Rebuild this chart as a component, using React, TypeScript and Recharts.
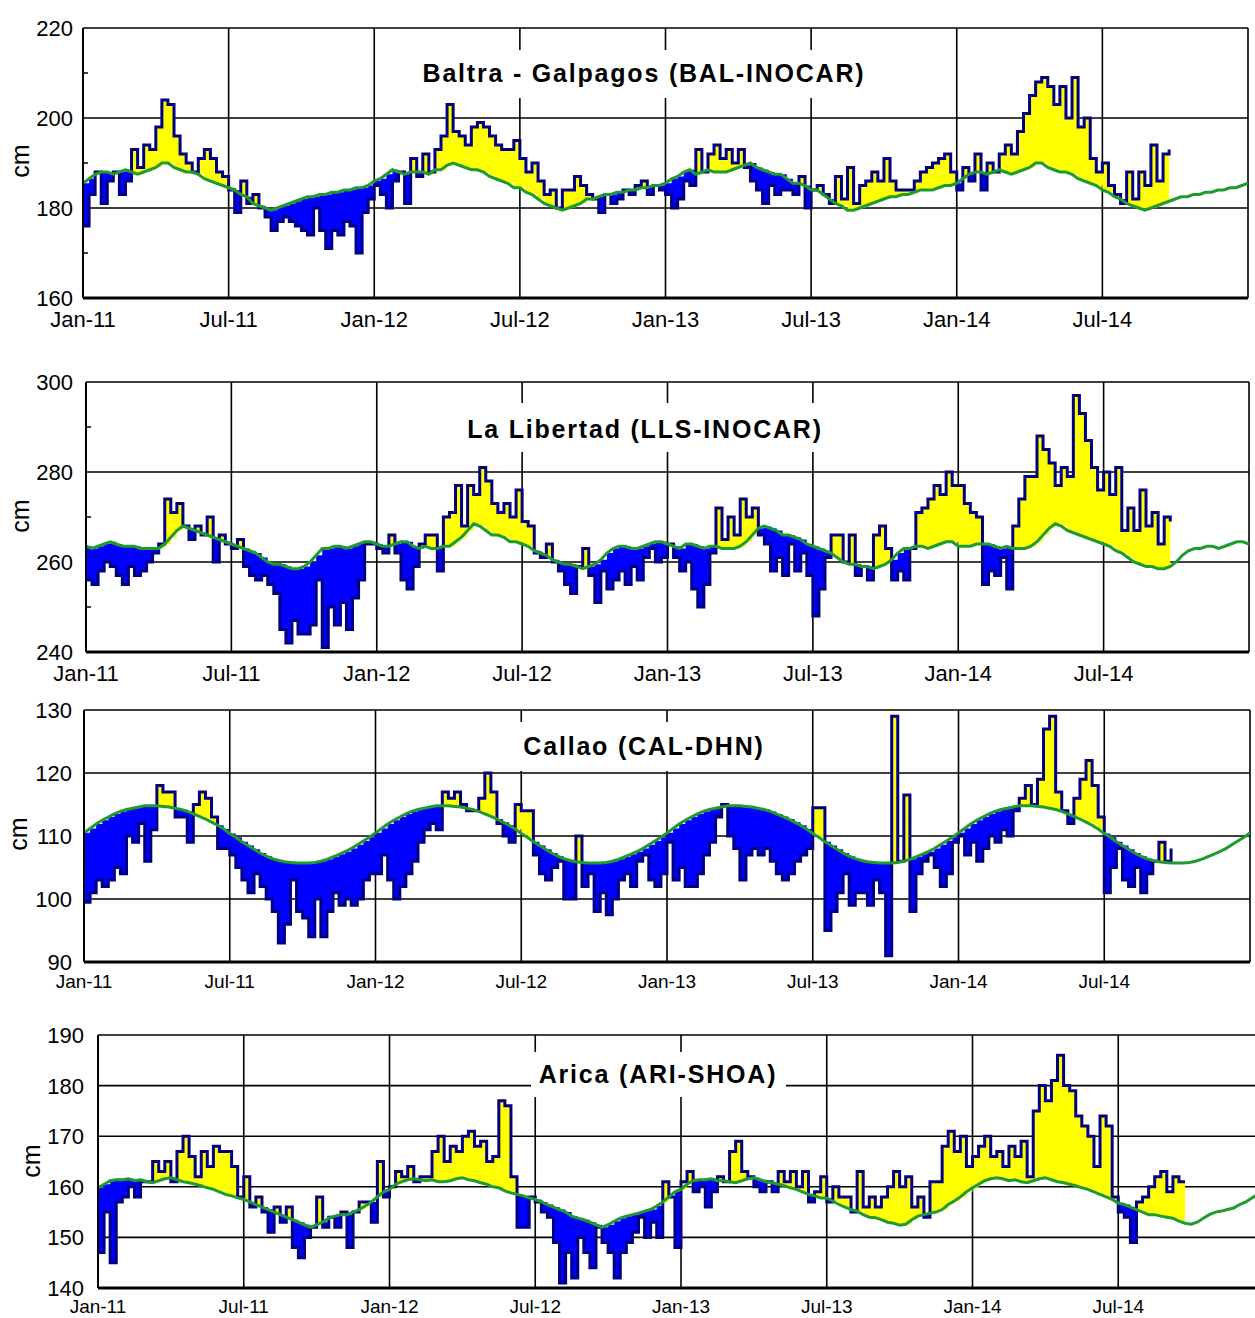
import React from "react";
import {
  ComposedChart,
  Area,
  Line,
  XAxis,
  YAxis,
  CartesianGrid,
} from "recharts";

const FONT = "'Liberation Sans', Arial, sans-serif";

// x is months since Jan-11, sampled every week (4 per month)
const MONTH_TICKS = [0, 6, 12, 18, 24, 30, 36, 42, 48];
const TICK_LABELS = ["Jan-11", "Jul-11", "Jan-12", "Jul-12", "Jan-13", "Jul-13", "Jan-14", "Jul-14", ""];

// Baltra - Galapagos
const BAL_OBS = [
  176, 183, 188, 181, 186, 188, 183, 186, 193, 189, 194, 193, 198, 204, 203, 196,
  192, 190, 188, 191, 193, 191, 188, 187, 184, 179, 186, 181, 183, 180, 178, 175,
  177, 178, 177, 176, 175, 174, 180, 175, 171, 175, 174, 177, 176, 170, 179, 182,
  185, 183, 180, 186, 188, 181, 191, 187, 192, 188, 193, 196, 203, 197, 196, 194,
  198, 199, 198, 196, 194, 193, 193, 195, 191, 188, 190, 186, 183, 184, 180, 184,
  184, 187, 185, 183, 182, 179, 183, 181, 182, 184, 183, 185, 186, 183, 185, 184,
  183, 180, 182, 186, 185, 193, 188, 192, 194, 191, 193, 190, 193, 189, 186, 184,
  181, 185, 183, 184, 184, 183, 187, 180, 184, 185, 183, 181, 187, 182, 189, 181,
  185, 186, 188, 186, 191, 186, 184, 184, 184, 186, 188, 189, 190, 191, 192, 188,
  184, 189, 186, 192, 184, 190, 188, 192, 194, 192, 197, 201, 205, 208, 209, 207,
  203, 207, 200, 209, 198, 200, 191, 188, 190, 185, 183, 181, 188, 182, 188, 185,
  194, 186, 192, 193,
];
const BAL_CLIM = [
  185.5, 186.5, 187.5, 188, 188, 187.5, 188, 188.5, 188, 187.5, 188, 188.5, 189, 190, 190, 189,
  188.5, 188, 188, 187.5, 186.5, 186, 185.5, 185, 184.5, 184, 183, 182.5, 181, 180.5, 180, 179.5,
  180, 180.5, 181, 181.5, 182, 182.5, 182.5, 183, 183, 183.5, 183.5, 184, 184, 184.5, 184.5, 185,
  186, 186.5, 187.5, 188.5, 188, 187.5, 188, 188, 188, 187.5, 188.5, 188.5, 189.5, 190, 189.5, 189,
  188.5, 188.5, 188, 187, 186.5, 186, 185.5, 184.5, 184.5, 183.5, 183, 182, 181, 180.5, 180, 179.5,
  180, 180.5, 181, 182, 182, 182.5, 183, 183, 183.5, 183.5, 184, 184, 184.5, 184.5, 185, 185,
  185.5, 186.5, 187, 188, 188.5, 187.5, 188, 188.5, 188, 188, 188, 188.5, 189, 189.5, 190, 189,
  188.5, 188, 187.5, 187.5, 186.5, 185.5, 185.5, 185, 184, 184, 183, 182, 181, 180.5, 179.5, 179.5,
  180, 180.5, 181, 181.5, 182, 182.5, 182.5, 183, 183, 183.5, 184, 184, 184, 184.5, 185, 185,
  185.5, 186.5, 187.5, 188, 188, 187.5, 188, 188.5, 188, 187.5, 188, 188.5, 189, 190, 190, 189,
  188.5, 188, 188, 187.5, 186.5, 186, 185.5, 185, 184, 183.5, 182.5, 182, 181, 180.5, 180, 179.5,
  180, 180.5, 181, 181.5, 182, 182.5, 182.5, 183, 183, 183.5, 183.5, 184, 184, 184.5, 184.5, 185,
  185.5,
];

// La Libertad
const LLS_OBS = [
  256, 255, 258, 260, 259, 257, 255, 259, 257, 258, 260, 262, 264, 274, 271, 273,
  268, 265, 268, 266, 270, 260, 266, 264, 263, 265, 259, 257, 256, 257, 255, 253,
  245, 242, 247, 244, 244, 246, 256, 241, 250, 246, 251, 245, 252, 256, 264, 264,
  263, 262, 266, 262, 256, 254, 259, 264, 266, 266, 258, 270, 271, 277, 268, 277,
  275, 281, 278, 273, 271, 273, 270, 276, 269, 268, 262, 261, 264, 260, 258, 255,
  253, 259, 263, 257, 251, 258, 254, 256, 258, 255, 259, 256, 261, 263, 260, 261,
  264, 261, 258, 260, 254, 250, 255, 262, 272, 265, 270, 266, 274, 270, 272, 266,
  264, 258, 261, 257, 264, 258, 262, 257, 248, 254, 261, 266, 266, 260, 266, 257,
  259, 256, 266, 268, 263, 256, 258, 256, 263, 271, 272, 274, 277, 275, 280, 277,
  277, 273, 271, 270, 255, 258, 257, 261, 254, 268, 274, 279, 279, 288, 285, 282,
  277, 281, 279, 297, 293, 287, 281, 276, 280, 275, 281, 267, 272, 267, 276, 268,
  271, 264, 270, 269,
];
const LLS_CLIM = [
  263.5, 263, 263.5, 264, 264.5, 264, 263.5, 263.5, 263.5, 263, 263, 263, 263, 264, 265.5, 267,
  268, 267.5, 267, 266.5, 266, 265.5, 265, 264.5, 264, 263.5, 263, 262.5, 262, 261, 260, 259.5,
  259.5, 259, 258.5, 258.5, 259, 260, 261.5, 263, 263, 263.5, 263.5, 263, 263.5, 264, 264.5, 264.5,
  264, 263.5, 263.5, 264, 264.5, 264.5, 263.5, 263, 263.5, 263, 263, 263.5, 263.5, 264.5, 265.5, 267,
  268.5, 268, 267, 266, 266, 265.5, 264.5, 264.5, 264, 263.5, 262.5, 262, 261.5, 260.5, 260, 259.5,
  259.5, 259, 258.5, 259, 259.5, 260.5, 262, 263, 263.5, 263.5, 263, 263, 263.5, 264, 264.5, 264.5,
  264, 263.5, 263, 264, 264, 263.5, 263, 263.5, 263.5, 263, 263, 263, 263.5, 264.5, 266, 267.5,
  268, 267.5, 267, 266, 266, 265.5, 265, 264, 263.5, 263, 262.5, 262, 261, 260, 259.5, 259.5,
  259, 259, 258.5, 259, 259.5, 260.5, 262, 263, 263, 263.5, 263.5, 263, 263.5, 264, 264.5, 264.5,
  263.5, 263.5, 263.5, 264, 264, 264, 263.5, 263, 263.5, 263, 263, 263, 263.5, 264.5, 266, 267.5,
  268.5, 268, 267, 266.5, 266, 265.5, 265, 264.5, 264, 263.5, 262.5, 262, 261, 260, 259.5, 259,
  259, 258.5, 258.5, 259, 260, 261.5, 262.5, 263, 263, 263.5, 263.5, 263, 263.5, 264, 264.5, 264.5,
  264,
];

// Callao
const CAL_OBS = [
  99.5, 101, 103, 102, 103, 105, 104, 110, 109, 112, 106, 111, 118, 117, 117, 113,
  113, 109, 115, 117, 116, 113, 108, 108, 107, 105, 103, 101, 104, 102, 100, 98,
  93, 96, 103, 98, 97, 94, 100, 94, 98, 101, 99, 100, 99, 100, 103, 104,
  104, 107, 103, 100, 102, 104, 106, 109, 111, 112, 111, 117, 116, 117, 115, 114,
  114, 116, 120, 117, 112, 110, 109, 115, 114, 114, 107, 104, 103, 105, 106, 100,
  100, 110, 102, 104, 98, 101, 97.5, 100, 103, 104, 102, 106, 107, 103, 102, 104,
  109, 103, 105, 102, 102, 104, 107, 109, 113, 115, 110, 108, 103, 107, 108, 107,
  108, 106, 104, 103, 104, 106, 107, 108, 114.5, 114.5, 95, 98, 101, 104, 99, 101,
  101, 99, 103, 101, 91, 129, 106, 116.5, 98, 104, 106, 107, 105, 102, 104, 109,
  110, 107, 109, 106, 108, 110, 109, 111, 110, 114, 116, 118, 115, 119, 127, 129,
  117, 114, 112, 116, 119, 122, 118, 113, 101, 105, 108, 103, 102, 105, 101, 104,
  106, 109, 106, 108,
];
const CAL_CLIM = [
  110.5, 111.2, 111.9, 112.5, 113, 113.5, 113.9, 114.2, 114.4, 114.6, 114.8, 114.8, 114.8, 114.7, 114.6, 114.4,
  114.2, 113.9, 113.5, 113.1, 112.7, 112.2, 111.7, 111.1, 110.4, 109.8, 109.1, 108.5, 107.9, 107.3, 106.8, 106.4,
  106.1, 105.9, 105.8, 105.7, 105.7, 105.7, 105.8, 106, 106.3, 106.7, 107.1, 107.5, 108, 108.6, 109.2, 109.8,
  110.5, 111.2, 111.9, 112.5, 113, 113.5, 113.9, 114.2, 114.4, 114.6, 114.8, 114.8, 114.8, 114.7, 114.6, 114.4,
  114.2, 113.9, 113.5, 113.1, 112.7, 112.2, 111.7, 111.1, 110.4, 109.8, 109.1, 108.5, 107.9, 107.3, 106.8, 106.4,
  106.1, 105.9, 105.8, 105.7, 105.7, 105.7, 105.8, 106, 106.3, 106.7, 107.1, 107.5, 108, 108.6, 109.2, 109.8,
  110.5, 111.2, 111.9, 112.5, 113, 113.5, 113.9, 114.2, 114.4, 114.6, 114.8, 114.8, 114.8, 114.7, 114.6, 114.4,
  114.2, 113.9, 113.5, 113.1, 112.7, 112.2, 111.7, 111.1, 110.4, 109.8, 109.1, 108.5, 107.9, 107.3, 106.8, 106.4,
  106.1, 105.9, 105.8, 105.7, 105.7, 105.7, 105.8, 106, 106.3, 106.7, 107.1, 107.5, 108, 108.6, 109.2, 109.8,
  110.5, 111.2, 111.9, 112.5, 113, 113.5, 113.9, 114.2, 114.4, 114.6, 114.8, 114.8, 114.8, 114.7, 114.6, 114.4,
  114.2, 113.9, 113.5, 113.1, 112.7, 112.2, 111.7, 111.1, 110.4, 109.8, 109.1, 108.5, 107.9, 107.3, 106.8, 106.4,
  106.1, 105.9, 105.8, 105.7, 105.7, 105.7, 105.8, 106, 106.3, 106.7, 107.1, 107.5, 108, 108.6, 109.2, 109.8,
  110.5,
];

// Arica
const ARI_OBS = [
  147, 155, 145, 157, 158, 160, 158, 161, 161, 165, 163, 165, 161, 167, 170, 166,
  162, 167, 164, 168, 167, 167, 164, 158, 162, 156, 158, 155, 151, 156, 153, 156,
  148, 146, 150, 152, 158, 152, 154, 152, 155, 148, 155, 157, 157, 153, 165, 158,
  160, 163, 162, 164, 161, 162, 162, 167, 170, 165, 168, 167, 170, 171, 168, 169,
  165, 166, 177, 176, 162, 152, 152, 158, 157, 155, 154, 149, 141, 147, 142, 150,
  147, 144, 152, 149, 147, 142, 147, 149, 151, 154, 150, 153, 150, 161, 158, 148,
  161, 163, 159, 160, 156, 159, 162, 161, 167, 169, 163, 162, 160, 159, 161, 159,
  163, 161, 163, 160, 163, 157, 159, 162, 157, 160, 158, 158, 155, 163, 156, 158,
  156, 158, 160, 163, 160, 162, 156, 158, 154, 161, 161, 168, 171, 167, 170, 164,
  166, 168, 170, 166, 167, 164, 168, 166, 169, 162, 175, 180, 177, 181, 186, 180,
  179, 174, 172, 170, 164, 174, 172, 158, 155, 154, 149, 157, 158, 160, 162, 163,
  159, 162, 161, 161,
];
const ARI_CLIM = [
  159.8, 160.5, 161.2, 161.4, 161.4, 161.6, 161.2, 161.4, 161, 160.8, 161.2, 161.6, 161.8, 161.4, 161, 160.8,
  160.5, 160.2, 159.8, 159.5, 159, 158.5, 158.2, 157.8, 157.5, 157, 156.5, 156, 155.5, 155, 154.5, 154,
  153.5, 153, 152.5, 152, 152.5, 153, 153.8, 154.2, 154.5, 154.5, 155, 155.5, 156.2, 157, 158, 159,
  159.5, 160.5, 161, 161.4, 161.6, 161.4, 161.2, 161.4, 161, 161, 161.2, 161.6, 161.8, 161.4, 161.2, 160.8,
  160.5, 160, 159.8, 159.2, 158.8, 158.5, 158.2, 157.8, 157.5, 157, 156.5, 156, 155.5, 155, 154.2, 153.8,
  153.5, 153, 152.5, 152, 152.5, 153.2, 153.8, 154.2, 154.5, 154.8, 155.2, 155.5, 156.2, 157, 158, 159,
  159.5, 160.5, 161.2, 161.4, 161.4, 161.6, 161.2, 161.2, 161, 160.8, 161.2, 161.6, 161.8, 161.4, 161, 160.8,
  160.5, 160.2, 159.8, 159.5, 159, 158.5, 158.2, 157.8, 157.8, 157.2, 156.5, 156, 155.5, 155.2, 154.5, 154,
  153.9, 153.5, 153, 152.8, 152.4, 152.6, 153.5, 154.2, 154.5, 154.8, 155, 155.5, 156.5, 157.2, 158, 159,
  159.8, 160.5, 161.2, 161.6, 161.8, 161.6, 161.2, 161.4, 161, 160.8, 161.2, 161.6, 161.8, 161.4, 161, 160.8,
  160.5, 160.2, 159.8, 159.5, 159, 158.5, 158, 157.5, 156.8, 156.5, 156, 155.5, 155, 154.5, 154.5, 154.2,
  154, 153.8, 153.2, 152.8, 152.6, 153, 153.8, 154.5, 155, 155.2, 155.5, 155.8, 156.5, 157, 157.8, 158.5,
  159,
];

const BAL_TICKS = { major: [160, 180, 200, 220], minor: [170, 190, 210] };
const LLS_TICKS = { major: [240, 260, 280, 300], minor: [250, 270, 290] };
const CAL_TICKS = { major: [90, 100, 110, 120, 130], minor: [] as number[] };
const ARI_TICKS = { major: [140, 150, 160, 170, 180, 190], minor: [] as number[] };

const buildRows = (obs: number[], clim: number[]) =>
  clim.map((c, i) => {
    const o = i < obs.length ? obs[i] : null;
    return {
      t: i / 4,
      obs: o,
      clim: c,
      hi: o == null ? null : [c, Math.max(o, c)],
      lo: o == null ? null : [Math.min(o, c), c],
    };
  });

interface PanelProps {
  obs: number[];
  clim: number[];
  ticks: { major: number[]; minor: number[] };
  plot: { l: number; r: number; t: number; b: number };
  yGap: number;
  xFont: number;
  xGap: number;
}

function Panel({ obs, clim, ticks, plot, yGap, xFont, xGap }: PanelProps) {
  const rows = buildRows(obs, clim);
  const major = ticks.major;
  const all = [...major, ...ticks.minor].sort((a, b) => a - b);
  const top = 20;
  const xAxisH = 45;
  const height = plot.b - plot.t + top + xAxisH;
  const width = plot.r + 6;

  const yTick = (p: any) => {
    const v = p.payload.value;
    if (ticks.minor.includes(v)) {
      return (
        <g>
          <line x1={plot.l} x2={plot.l + 5} y1={p.y} y2={p.y} stroke="#000" strokeWidth={1.5} />
        </g>
      );
    }
    return (
      <g>
        <text
          x={plot.l - yGap}
          y={p.y}
          dy="0.36em"
          textAnchor="end"
          fontSize={22}
          fontFamily={FONT}
          fill="#000"
        >
          {v}
        </text>
      </g>
    );
  };

  return (
    <div style={{ position: "absolute", left: 0, top: plot.t - top }}>
      <ComposedChart
        width={width}
        height={height}
        data={rows}
        margin={{ top, right: 6, bottom: 0, left: plot.l - 70 }}
      >
        <CartesianGrid
          stroke="#000"
          strokeWidth={1.6}
          verticalValues={MONTH_TICKS}
          horizontalValues={major}
        />
        <XAxis
          dataKey="t"
          type="number"
          domain={[0, 48]}
          ticks={MONTH_TICKS}
          interval={0}
          height={xAxisH}
          tickFormatter={(v: number) => TICK_LABELS[MONTH_TICKS.indexOf(v)] ?? ""}
          tick={{ fontSize: xFont, fill: "#000", fontFamily: FONT }}
          tickLine={false}
          tickSize={0}
          tickMargin={xGap}
          axisLine={{ stroke: "#000", strokeWidth: 3 }}
          allowDataOverflow
        />
        <YAxis
          type="number"
          domain={[major[0], major[major.length - 1]]}
          ticks={all}
          interval={0}
          width={70}
          tick={yTick}
          tickLine={false}
          tickSize={0}
          axisLine={{ stroke: "#000", strokeWidth: 2 }}
          allowDataOverflow
        />
        <Area
          dataKey="hi"
          type="stepAfter"
          stroke="none"
          fill="#ffff00"
          fillOpacity={1}
          isAnimationActive={false}
          activeDot={false}
        />
        <Area
          dataKey="lo"
          type="stepAfter"
          stroke="none"
          fill="#0000ff"
          fillOpacity={1}
          isAnimationActive={false}
          activeDot={false}
        />
        <Line
          dataKey="obs"
          type="stepAfter"
          stroke="#000080"
          strokeWidth={3}
          dot={false}
          activeDot={false}
          isAnimationActive={false}
        />
        <Line
          dataKey="clim"
          type="linear"
          stroke="#1e9a2e"
          strokeWidth={3}
          dot={false}
          activeDot={false}
          isAnimationActive={false}
        />
      </ComposedChart>
    </div>
  );
}

const TITLES = [
  { text: "Baltra - Galpagos (BAL-INOCAR)", x: 644, y: 82, box: [410, 50, 877, 98] },
  { text: "La Libertad (LLS-INOCAR)", x: 645, y: 438, box: [455, 403, 835, 452] },
  { text: "Callao (CAL-DHN)", x: 644, y: 755, box: [470, 722, 808, 771] },
  { text: "Arica (ARI-SHOA)", x: 658, y: 1083, box: [531, 1052, 786, 1097] },
];

const CM_LABELS = [
  { x: 29, y: 161 },
  { x: 29, y: 516 },
  { x: 27, y: 834 },
  { x: 40, y: 1161 },
];

export default function App() {
  return (
    <div
      style={{
        position: "absolute",
        left: 0,
        top: 0,
        width: 1255,
        height: 1318,
        overflow: "hidden",
        background: "#fff",
      }}
    >
      <Panel obs={BAL_OBS} clim={BAL_CLIM} ticks={BAL_TICKS} plot={{ l: 83, r: 1248, t: 28, b: 298 }} yGap={10} xFont={22} xGap={13} />
      <Panel obs={LLS_OBS} clim={LLS_CLIM} ticks={LLS_TICKS} plot={{ l: 86, r: 1249, t: 382, b: 652 }} yGap={13} xFont={22} xGap={13} />
      <Panel obs={CAL_OBS} clim={CAL_CLIM} ticks={CAL_TICKS} plot={{ l: 84, r: 1250, t: 710, b: 962 }} yGap={12} xFont={19} xGap={13} />
      <Panel obs={ARI_OBS} clim={ARI_CLIM} ticks={ARI_TICKS} plot={{ l: 98, r: 1264, t: 1035, b: 1288 }} yGap={14} xFont={19} xGap={12} />
      <svg
        width={1255}
        height={1318}
        style={{ position: "absolute", left: 0, top: 0, pointerEvents: "none" }}
      >
        {TITLES.map((t) => (
          <g key={t.text}>
            <rect x={t.box[0]} y={t.box[1]} width={t.box[2] - t.box[0]} height={t.box[3] - t.box[1]} fill="#fff" />
            <text
              x={t.x}
              y={t.y}
              textAnchor="middle"
              fontSize={25}
              fontWeight="bold"
              letterSpacing={1.8}
              fontFamily={FONT}
              fill="#000"
            >
              {t.text}
            </text>
          </g>
        ))}
        {CM_LABELS.map((c, i) => (
          <text
            key={i}
            x={c.x}
            y={c.y}
            transform={`rotate(-90 ${c.x} ${c.y})`}
            textAnchor="middle"
            fontSize={25}
            fontFamily={FONT}
            fill="#000"
          >
            cm
          </text>
        ))}
      </svg>
    </div>
  );
}
